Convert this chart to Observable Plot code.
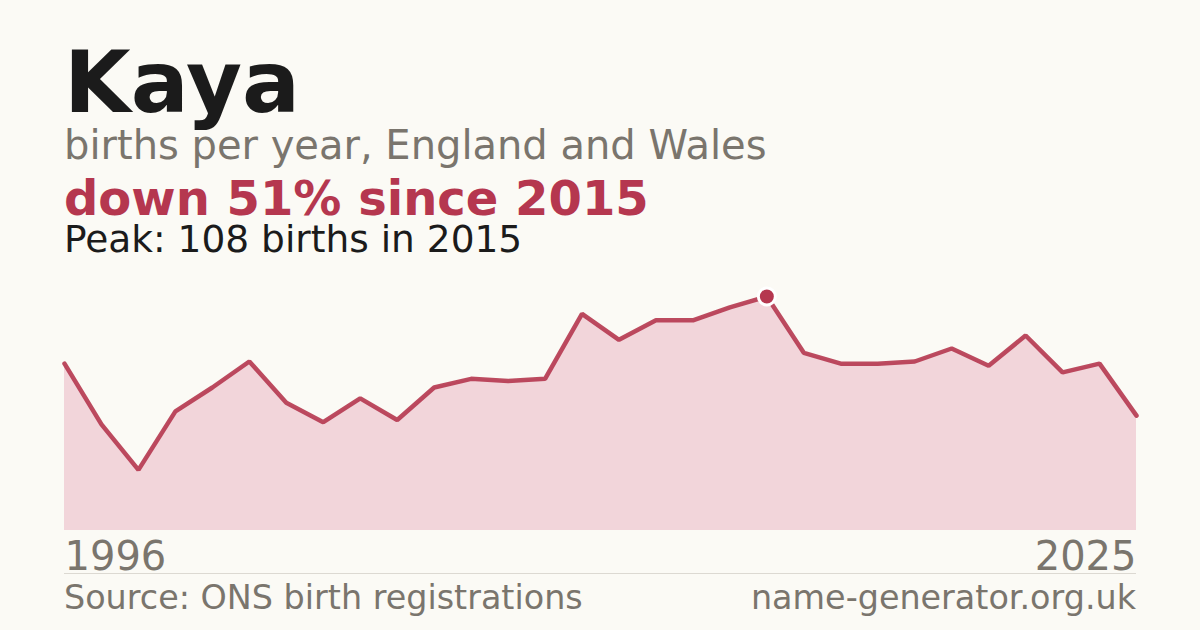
<!DOCTYPE html>
<html>
<head>
<meta charset="utf-8">
<script src="https://cdn.jsdelivr.net/npm/d3@7"></script>
<script src="https://cdn.jsdelivr.net/npm/@observablehq/plot@0.6"></script>
<style>
  html, body { margin: 0; padding: 0; }
  body { width: 1200px; height: 630px; background: #fbfaf5; position: relative; overflow: hidden; font-family: "DejaVu Sans", sans-serif; }
  .t { position: absolute; left: 64px; line-height: 0.9; white-space: nowrap; margin: 0; }
  #title { top: 44px; font-size: 86px; font-weight: bold; color: #1b1b1b; }
  #sub { top: 127px; font-size: 40px; color: #7a756d; }
  #change { top: 177px; font-size: 48px; font-weight: bold; color: #b5374f; }
  #peak { top: 223px; font-size: 37.5px; color: #1b1b1b; }
  #chart { position: absolute; left: 0; top: 260px; }
  #sep { position: absolute; left: 64px; width: 1072px; top: 573px; height: 1px; background: #dcd9d2; }
  #src { top: 583px; font-size: 33.4px; color: #7a756d; }
  #site { position: absolute; right: 64px; top: 583px; font-size: 33.4px; line-height: 0.9; color: #7a756d; white-space: nowrap; }
</style>
</head>
<body>
<div class="t" id="title">Kaya</div>
<div class="t" id="sub">births per year, England and Wales</div>
<div class="t" id="change">down 51% since 2015</div>
<div class="t" id="peak">Peak: 108 births in 2015</div>
<div id="chart"></div>
<div id="sep"></div>
<div class="t" id="src">Source: ONS birth registrations</div>
<div id="site">name-generator.org.uk</div>
<script>
const years = [1996,1997,1998,1999,2000,2001,2002,2003,2004,2005,2006,2007,2008,2009,2010,2011,2012,2013,2014,2015,2016,2017,2018,2019,2020,2021,2022,2023,2024,2025];
const births = [77,49,28,55,66,78,59,50,61,51,66,70,69,70,100,88,97,97,103,108,82,77,77,78,84,76,90,73,77,53];
const peakYear = 2015;
const peakValue = 108;
const endTicks = [1996, 2025];

const data = years.map((y, i) => ({year: y, births: births[i]}));

const chart = Plot.plot({
  width: 1200,
  height: 320,
  marginLeft: 64,
  marginRight: 64,
  marginTop: 10,
  marginBottom: 50,
  style: {background: "transparent", fontFamily: "DejaVu Sans"},
  x: {domain: [years[0], years[years.length - 1]], axis: null},
  y: {domain: [0, 120], axis: null},
  marks: [
    Plot.areaY(data, {x: "year", y: "births", fill: "#f2d5da", curve: "linear"}),
    Plot.lineY(data, {x: "year", y: "births", stroke: "#b5374f", strokeWidth: 4.5, strokeLinejoin: "miter", strokeOpacity: 0.9}),
    Plot.dot([{year: peakYear, births: peakValue}], {x: "year", y: "births", r: 8.5, fill: "#b5374f", stroke: "#ffffff", strokeWidth: 3}),
    Plot.text([endTicks[0]], {x: d => d, frameAnchor: "bottom", dy: 39, text: d => String(d), textAnchor: "start", fontSize: 40, fill: "#7a756d", lineAnchor: "bottom"}),
    Plot.text([endTicks[1]], {x: d => d, frameAnchor: "bottom", dy: 39, text: d => String(d), textAnchor: "end", fontSize: 40, fill: "#7a756d", lineAnchor: "bottom"})
  ]
});
document.getElementById("chart").appendChild(chart);
</script>
</body>
</html>
